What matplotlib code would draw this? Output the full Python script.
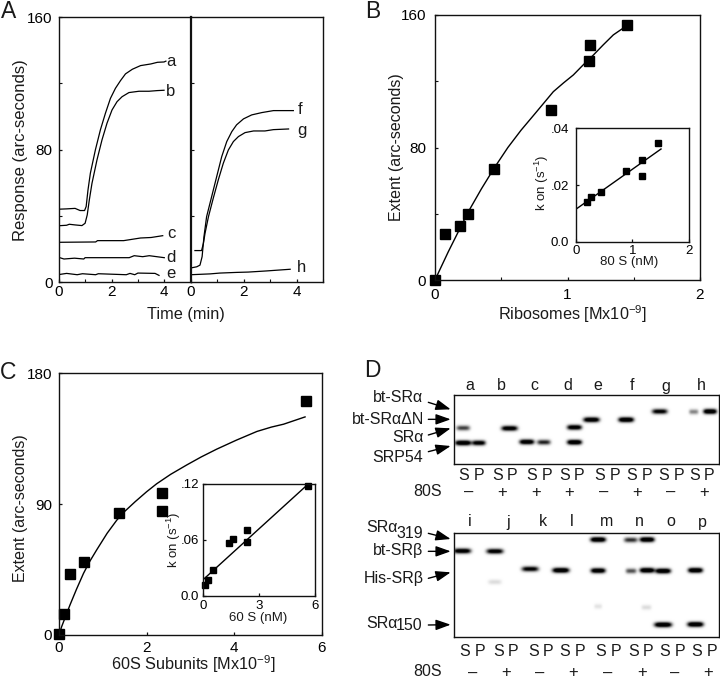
import numpy as np
import matplotlib
matplotlib.use("Agg")
import matplotlib.pyplot as plt

plt.rcParams['font.family'] = ['Liberation Sans', 'DejaVu Sans']
plt.rcParams['font.size'] = 11
plt.rcParams['text.color'] = '#1a1a1a'

W, H = 720, 679
INK = '#111111'

# panel A, sensorgrams
a_t = [0, .3, .62, .81, .98, 1.04, 1.11, 1.2, 1.39, 1.58, 1.77, 1.96, 2.15, 2.34, 2.53, 2.79, 3.1, 3.49, 3.74, 3.99, 4.06]
a_y = [44, 44.2, 44.5, 43.2, 43.2, 45.6, 55.7, 65.8, 79.9, 92, 102, 111, 117.1, 121.7, 125.8, 128.6, 130.8, 131.8, 132.8, 133, 133.5]
b_t = [0, .3, .4, .62, .88, 1.0, 1.08, 1.16, 1.26, 1.45, 1.64, 1.83, 2.02, 2.21, 2.4, 2.66, 3.04, 3.42, 3.74, 3.99]
b_y = [34, 34.3, 34.9, 34.5, 34.1, 35.5, 40.5, 49.6, 59.6, 73.8, 85.9, 96, 104, 109, 112, 114.5, 115.3, 115.3, 115.7, 115.9]
c_t = [0, 1.4, 1.47, 2.46, 2.7, 3.1, 3.5, 3.94]
c_y = [24, 24.2, 25, 25, 25.6, 26.6, 26.9, 28]
d_t = [0, .2, .6, .95, 1.0, 2.67, 2.86, 3.18, 3.43, 4.0]
d_y = [14.9, 13.9, 14.4, 13.9, 14.7, 14.7, 15.9, 15.3, 15.9, 14.7]
e_t = [.05, .3, .7, .9, 1.4, 1.5, 2.56, 2.7, 2.88, 3.0, 3.65, 3.8]
e_y = [4.6, 5.2, 4.4, 5, 4.4, 5, 4.4, 5.2, 4.4, 5.4, 5.2, 4]
f_t = [.04, .23, .35, .43, .5, .6, .79, .98, 1.17, 1.36, 1.55, 1.73, 1.99, 2.3, 2.68, 3.12, 3.87]
f_y = [8.6, 9.2, 10.2, 15.3, 27.4, 39.5, 51.6, 63.7, 75.8, 84.9, 90.9, 95, 98.6, 101, 102.4, 103.6, 103.6]
g_t = [.16, .41, .48, .54, .67, .85, 1.04, 1.23, 1.42, 1.61, 1.8, 2.05, 2.37, 2.8, 3.12, 3.69]
g_y = [19, 19, 23.4, 29.4, 39.5, 50.6, 61.7, 71.8, 79.8, 84.9, 87.9, 90.3, 91.3, 91.3, 92.1, 92.5]
h_t = [0, .73, 1.1, 1.73, 2.17, 2.87, 3.75]
h_y = [4.4, 4.9, 5.4, 5.8, 6, 6.7, 7.7]

# panel B
rib_x = [0, .075, .19, .247, .443, .875, 1.165, 1.167, 1.45]
rib_y = [0, 27.6, 32.8, 40, 67, 102.4, 132, 142, 153.7]
rib_fit_x = [0, .1, .2, .25, .35, .45, .55, .65, .75, .893, .97, 1.044, 1.12, 1.195, 1.27, 1.346, 1.45]
rib_fit_y = [0, 17, 33, 41, 55, 68, 80, 90.5, 100, 113.7, 119, 123.8, 130, 135.8, 142, 148, 153.7]
rib_in_x = [.206, .265, .44, .888, 1.176, 1.176, 1.459]
rib_in_y = [.014, .01565, .0175, .025, .0287, .0232, .0347]
rib_in_fit_x = [0, 1.506]
rib_in_fit_y = [.0114, .0327]

# panel C
sub_x = [0, .12, .25, .56, 1.37, 2.35, 2.35, 5.64]
sub_y = [.7, 14.4, 42, 50, 83.7, 85, 98, 161]
sub_fit_x = [0, .06, .25, .4, .56, .7, .86, 1.1, 1.32, 1.5, 1.74, 2.0, 2.23, 2.55, 2.92, 3.25, 3.6, 4.05, 4.52, 4.85, 5.13, 5.62]
sub_fit_y = [0, 5.7, 20.6, 31.5, 42.4, 50.5, 58.5, 70, 79, 85, 91.7, 98.5, 104, 110.5, 117, 122.5, 127.8, 134, 140, 143, 145, 150]
sub_in_x = [.107, .285, .57, 1.39, 1.62, 2.35, 2.35, 5.64]
sub_in_y = [.0118, .0168, .0282, .0571, .0607, .0582, .0711, .1182]
sub_in_fit_x = [0, 5.64]
sub_in_fit_y = [.0171, .12]

# gels: band centre x, centre y, half width, darkness (3x zoomed picture units)
top_x = [308, 308, 355, 447, 499, 550, 642, 642, 693, 797, 898, 1000, 1049]
top_y = [233, 278, 278, 234, 275, 276, 231, 276, 208, 208, 183, 184, 183]
top_w = [20, 24, 20, 24, 22, 20, 22, 22, 24, 23, 23, 14, 20]
top_d = [.55, 1, .85, .9, .95, .65, .9, 1, .95, 1, .8, .35, 1]
bot_x = [305, 403, 509, 601, 713, 713, 811, 860, 812, 860, 908, 1005, 908, 1005, 403, 713, 858]
bot_y = [124, 125, 178, 182, 90, 183, 91, 90, 184, 182, 184, 182, 345, 344, 217, 290, 293]
bot_w = [26, 25, 25, 25, 23, 22, 20, 22, 16, 22, 23, 22, 26, 24, 20, 12, 15]
bot_d = [.9, .85, .8, 1, 1, .95, .6, 1, .5, 1, 1, 1, 1, 1, .1, .08, .1]

top_letters = ['a', 'b', 'c', 'd', 'e', 'f', 'g', 'h']
top_letter_x = [330, 423, 522, 622, 713, 815, 918, 1025]
top_sp_x = [310, 357, 413, 455, 515, 560, 613, 656, 720, 765, 815, 860, 912, 957, 1005, 1048]
top_sign = ['–', '+', '+', '+', '–', '+', '–', '+']
top_sign_x = [327, 427, 527, 627, 730, 830, 932, 1033]
bot_letters = ['i', 'j', 'k', 'l', 'm', 'n', 'o', 'p']
bot_letter_x = [328, 443, 550, 636, 740, 837, 933, 1028]
bot_sp_x = [315, 360, 415, 460, 520, 565, 615, 660, 722, 768, 820, 865, 915, 960, 1010, 1055]
bot_sign = ['–', '+', '–', '+', '–', '+', '–', '+']
bot_sign_x = [338, 438, 540, 640, 742, 845, 945, 1045]

fig = plt.figure(figsize=(W / 100, H / 100), dpi=100)


def box(x0, y0, x1, y1):
    # pixel box to axes, y counted from the top
    ax = fig.add_axes([x0 / W, 1 - y1 / H, (x1 - x0) / W, (y1 - y0) / H])
    for s in ax.spines.values():
        s.set_linewidth(1)
        s.set_color(INK)
    return ax


def label(x, y, s, **kw):
    kw.setdefault('ha', 'center')
    kw.setdefault('va', 'center')
    fig.text(x / W, 1 - y / H, s, **kw)


def zx(x):
    # 3x zoom coordinates back to picture
    return 360 + x / 3


def arrow(x0, y0, x1, y1, yoff):
    fig.add_artist(matplotlib.patches.FancyArrowPatch(
        (zx(x0) / W, 1 - (yoff + y0 / 3) / H), (zx(x1) / W, 1 - (yoff + y1 / 3) / H),
        transform=fig.transFigure, arrowstyle='-|>,head_length=9,head_width=3.2',
        color='black', lw=1, shrinkA=0, shrinkB=0, mutation_scale=1))


def style(ax, xt, yt, xl, yl, xm=None, ym=None, size=11, ln=2.5, padx=3, pady=4):
    ax.set_xlim(*xl)
    ax.set_ylim(*yl)
    ax.set_xticks(xt[0], xt[1])
    ax.set_yticks(yt[0], yt[1])
    if xm:
        ax.set_xticks(xm, minor=True)
    if ym:
        ax.set_yticks(ym, minor=True)
    ax.tick_params(direction='in', length=ln, width=.9, labelsize=size, color=INK)
    ax.tick_params(axis='x', pad=padx)
    ax.tick_params(axis='y', pad=pady)
    ax.tick_params(which='minor', direction='in', length=ln, width=.8, color=INK)


# A
ax1 = box(58.7, 17.3, 190.7, 282)
style(ax1, ([0, 2, 4], ['0', '2', '4']), ([0, 80, 160], ['0', '80', '160']), (0, 5), (0, 160),
      xm=[1, 3, 5], ym=[40, 120], padx=2, pady=4.5)
for t, y in [(a_t, a_y), (b_t, b_y), (c_t, c_y), (d_t, d_y), (e_t, e_y)]:
    ax1.plot(t, y, color='black', lw=.9)
ax2 = box(190.7, 17.3, 323.3, 282)
style(ax2, ([0, 2, 4], ['0', '2', '4']), ([], []), (0, 5), (0, 160), xm=[1, 3, 5], ym=[40, 80, 120], padx=2)
ax2.spines['left'].set_linewidth(1.6)
for t, y in [(f_t, f_y), (g_t, g_y), (h_t, h_y)]:
    ax2.plot(t, y, color='black', lw=.9)
for s, x, y in [('a', 171, 61), ('b', 171, 91), ('c', 171, 233), ('d', 171, 257), ('e', 171, 274),
                ('f', 300, 109), ('g', 302, 130), ('h', 302, 268)]:
    label(x, y, s, fontsize=12)
label(21, 150, 'Response (arc-seconds)', rotation=90, fontsize=12)
label(186, 315, 'Time (min)', fontsize=11.7)
label(9, 11.5, 'A', fontsize=16.5)

# B
ax3 = box(435, 15, 700, 280)
style(ax3, ([0, 1, 2], ['0', '1', '2']), ([0, 80, 160], ['0', '80', '160']), (0, 2), (0, 160),
      xm=[.5, 1.5], ym=[40, 120], padx=5.5, pady=6.5)
ax3.plot(rib_fit_x, rib_fit_y, color='black', lw=1)
ax3.plot(rib_x, rib_y, 's', color='black', ms=7.5, clip_on=False)
ax4 = box(575.7, 128.3, 689, 241.7)
style(ax4, ([0, 1, 2], ['0', '1', '2']), ([0, .02, .04], ['0.0', '.02', '.04']), (0, 2), (0, .04),
      size=9.5, ln=2, padx=2.5, pady=5)
ax4.plot(rib_in_fit_x, rib_in_fit_y, color='black', lw=1)
ax4.plot(rib_in_x, rib_in_y, 's', color='black', ms=4, clip_on=False)
label(396, 147, 'Extent (arc-seconds)', rotation=90, fontsize=11.5)
label(572, 314, 'Ribosomes [Mx10$^{\\mathregular{-9}}$]', fontsize=11.7)
label(542, 183, 'k on (s$^{\\mathregular{-1}}$)', rotation=90, fontsize=9.5)
label(629, 262, '80 S (nM)', fontsize=9.5)
label(373, 11.5, 'B', fontsize=16.5)

# C
ax5 = box(59, 373.3, 321.7, 635)
style(ax5, ([0, 2, 4, 6], ['0', '2', '4', '6']), ([0, 90, 180], ['0', '90', '180']), (0, 6), (0, 180),
      padx=4, pady=5)
ax5.plot(sub_fit_x, sub_fit_y, color='black', lw=1)
ax5.plot(sub_x, sub_y, 's', color='black', ms=7.5, clip_on=False)
ax6 = box(202.7, 484, 315, 596)
style(ax6, ([0, 3, 6], ['0', '3', '6']), ([0, .06, .12], ['0.0', '.06', '.12']), (0, 6), (0, .12),
      size=9.5, ln=2, padx=3, pady=2.5)
ax6.plot(sub_in_fit_x, sub_in_fit_y, color='black', lw=1)
ax6.plot(sub_in_x, sub_in_y, 's', color='black', ms=4, clip_on=False)
label(21, 508, 'Extent (arc-seconds)', rotation=90, fontsize=11.5)
label(193, 664, '60S Subunits [Mx10$^{\\mathregular{-9}}$]', fontsize=11.7)
label(174, 540, 'k on (s$^{\\mathregular{-1}}$)', rotation=90, fontsize=9.5)
label(258, 618, '60 S (nM)', fontsize=9.5)
label(8.5, 372, 'C', fontsize=16.5)


# D
def gel(y0, y1, z0, z1, xs, ys, ws, ds):
    ax = box(453.7, y0, 719.3, y1)
    ax.set_xticks([])
    ax.set_yticks([])
    gx, gy = np.meshgrid(np.linspace(281, 1078, 532), np.linspace(z0, z1, 2 * int(y1 - y0)))
    img = np.zeros_like(gx)
    for x, y, w, d in zip(xs, ys, ws, ds):
        img += d * np.exp(-((gx - x) / w) ** 4 - ((gy - y) / 7.5) ** 2)
    ax.imshow(1 - np.clip(1.4 * img, 0, 1), cmap='gray', vmin=0, vmax=1, aspect='auto',
              extent=(281, 1078, z1, z0), interpolation='bilinear')


gel(394.7, 463.7, 134, 341, top_x, top_y, top_w, top_d)
gel(532.7, 637, 68, 381, bot_x, bot_y, bot_w, bot_d)

for s, x in zip(top_letters, top_letter_x):
    label(zx(x), 386, s, fontsize=11.5)
for i, x in enumerate(top_sp_x):
    label(zx(x), 475, 'SP'[i % 2], fontsize=11.5)
for s, x in zip(top_sign, top_sign_x):
    label(zx(x), 492, s, fontsize=12)
label(zx(203), 492, '80S', fontsize=11.5)
for s, x in zip(bot_letters, bot_letter_x):
    label(zx(x), 522, s, fontsize=11.5)
for i, x in enumerate(bot_sp_x):
    label(zx(x), 652, 'SP'[i % 2], fontsize=11.5)
for s, x in zip(bot_sign, bot_sign_x):
    label(zx(x), 673, s, fontsize=12)
label(zx(203), 672, '80S', fontsize=11.5)

for s, x, y in [('bt-SRα', 190, 398), ('bt-SRαΔN', 192, 420), ('SRα', 190, 437), ('SRP54', 190, 458),
                ('bt-SRβ', 190, 551), ('His-SRβ', 190, 579)]:
    label(zx(x), y, s, ha='right', fontsize=11.5)
label(zx(18), 528, 'SRα', ha='left', fontsize=11.5)
label(zx(188), 533, '319', ha='right', fontsize=11.5)
label(zx(18), 623, 'SRα', ha='left', fontsize=11.5)
label(zx(188), 626, '150', ha='right', fontsize=11.5)

for x0, y0, x1, y1 in [(205, 157, 272, 178), (205, 208, 272, 208), (205, 255, 272, 235), (205, 305, 272, 288)]:
    arrow(x0, y0, x1, y1, 350)
for x0, y0, x1, y1 in [(205, 70, 272, 87), (205, 124, 272, 124), (205, 205, 272, 187), (205, 345, 272, 344)]:
    arrow(x0, y0, x1, y1, 510)
label(zx(37), 371, 'D', fontsize=16.5)

fig.savefig('out.png', dpi=100)
